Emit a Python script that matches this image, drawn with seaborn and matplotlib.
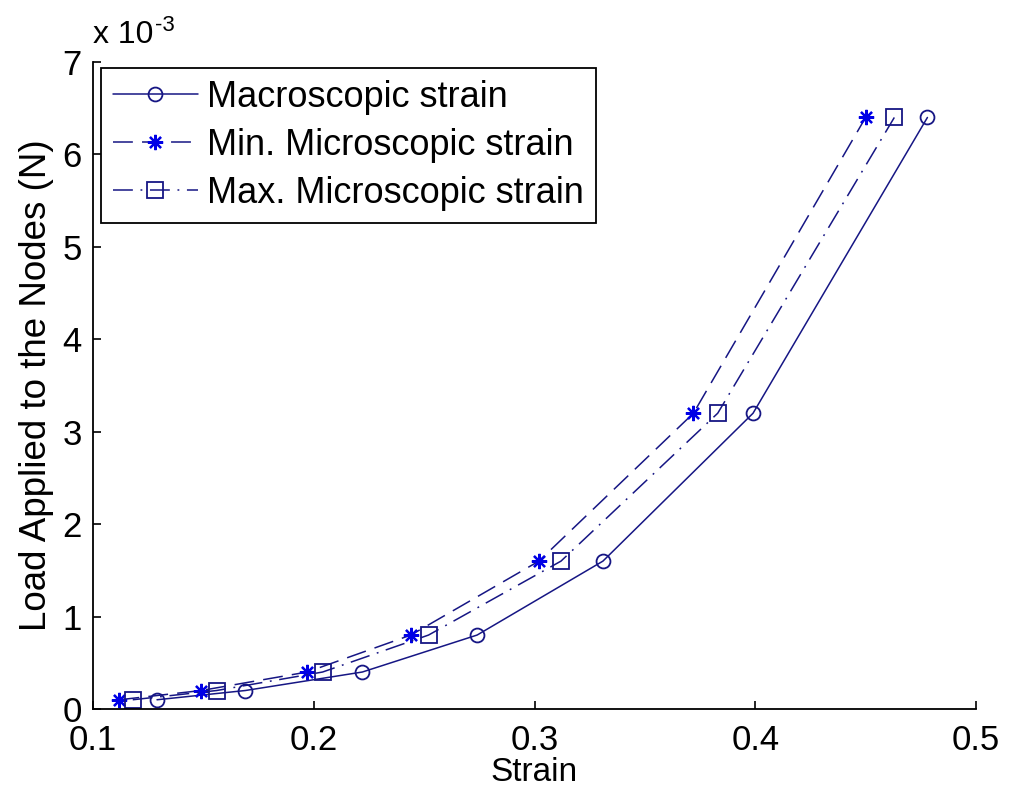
import numpy as np
import pandas as pd
import matplotlib
matplotlib.use('Agg')
import matplotlib.pyplot as plt
import seaborn as sns
from matplotlib.ticker import FuncFormatter

# 数据 (load in N, strain)
load = [0.1e-3, 0.2e-3, 0.4e-3, 0.8e-3, 1.6e-3, 3.2e-3, 6.4e-3]
macro_strain = [0.129, 0.169, 0.222, 0.274, 0.331, 0.399, 0.478]
min_micro_strain = [0.112, 0.149, 0.197, 0.244, 0.302, 0.372, 0.450]
max_micro_strain = [0.118, 0.156, 0.204, 0.252, 0.312, 0.383, 0.463]
labels = ['Macroscopic strain', 'Min. Microscopic strain', 'Max. Microscopic strain']
xticks = [0.1, 0.2, 0.3, 0.4, 0.5]
yticks = [0, 1e-3, 2e-3, 3e-3, 4e-3, 5e-3, 6e-3, 7e-3]

sns.set_style('ticks')
plt.rcParams['font.family'] = ['Liberation Sans', 'DejaVu Sans']
plt.rcParams['mathtext.default'] = 'regular'
plt.rcParams['xtick.direction'] = 'in'
plt.rcParams['ytick.direction'] = 'in'
for k in ['text.color', 'axes.labelcolor', 'xtick.color', 'ytick.color']:
    plt.rcParams[k] = 'black'

line_col = '#161684'
star_col = '#0000e6'

fig = plt.figure(figsize=(10.1, 7.96), dpi=100)
ax = fig.add_axes([93 / 1010, 1 - 709 / 796, 883 / 1010, 647 / 796])

sns.lineplot(x=macro_strain, y=load, sort=False, ax=ax, label=labels[0],
             color=line_col, linewidth=1.1, linestyle='-', marker='o', markersize=10,
             markerfacecolor='none', markeredgecolor=line_col, markeredgewidth=1.3)
sns.lineplot(x=min_micro_strain, y=load, sort=False, ax=ax, label=labels[1],
             color=line_col, linewidth=1.1, linestyle=(0, (13, 6)), marker=(8, 2, 0), markersize=11,
             markeredgecolor=star_col, markeredgewidth=1.6)
sns.lineplot(x=max_micro_strain, y=load, sort=False, ax=ax, label=labels[2],
             color=line_col, linewidth=1.1, linestyle=(0, (13, 5, 1.2, 5)), marker='s', markersize=11,
             markerfacecolor='none', markeredgecolor=line_col, markeredgewidth=1.3)

ax.set_xlim(0.1, 0.5)
ax.set_ylim(0, 7e-3)
ax.set_xticks(xticks)
ax.set_yticks(yticks)
ax.yaxis.set_major_formatter(FuncFormatter(lambda v, p: '%g' % round(v * 1e3, 6)))
ax.tick_params(labelsize=25, length=6, width=1.2, colors='black')
ax.tick_params(axis='x', pad=11)
ax.tick_params(axis='y', pad=8)
sns.despine(ax=ax)
for s in ['left', 'bottom']:
    ax.spines[s].set_linewidth(1.3)
    ax.spines[s].set_color('black')

ax.set_xlabel('Strain', fontsize=24, labelpad=0)
ax.set_ylabel('Load Applied to the Nodes (N)', fontsize=26.5, labelpad=6)
t = ax.text(0.0, 1.018, 'x 10', transform=ax.transAxes, fontsize=23,
            ha='left', va='bottom')
ax.annotate('-3', xy=(1, 1), xycoords=t, xytext=(1, -4), textcoords='offset points',
            fontsize=16, ha='left', va='center')

leg = ax.legend(loc='upper left', bbox_to_anchor=(0.009, 0.991), borderaxespad=0,
                fontsize=26, frameon=True, fancybox=False, framealpha=1,
                handlelength=2.35, handletextpad=0.25, labelspacing=0.36,
                borderpad=0.33, numpoints=1)
leg.get_frame().set_edgecolor('black')
leg.get_frame().set_linewidth(1.3)

plt.savefig('out.png', dpi=100)
